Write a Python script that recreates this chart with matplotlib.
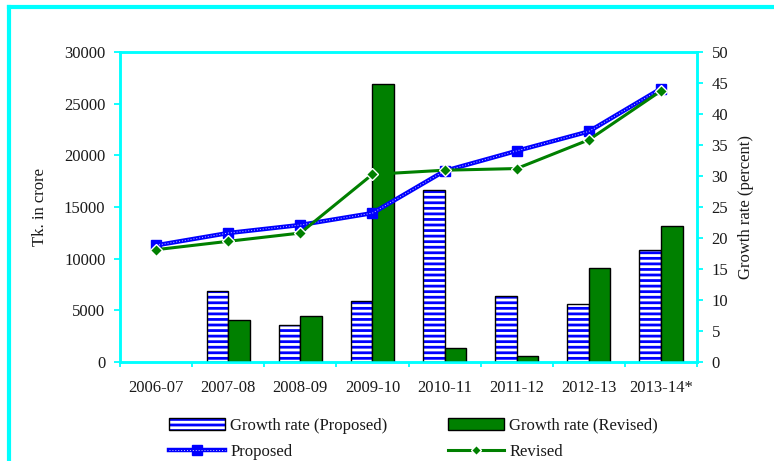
import numpy as np
import matplotlib
matplotlib.use('Agg')
import matplotlib.pyplot as plt
from matplotlib.lines import Line2D
from matplotlib.patches import Patch
from matplotlib.legend_handler import HandlerTuple

# Budget size (Tk. in crore) and growth rates, proposed vs revised
years = ['2006-07', '2007-08', '2008-09', '2009-10', '2010-11', '2011-12', '2012-13', '2013-14*']
proposed = [11290, 12480, 13260, 14410, 18490, 20430, 22310, 26450]
revised = [10870, 11680, 12480, 18160, 18560, 18720, 21500, 26230]
growth_proposed = [np.nan, 11.5, 5.9, 9.8, 27.7, 10.6, 9.3, 18.0]
growth_revised = [np.nan, 6.8, 7.5, 44.8, 2.3, 0.9, 15.1, 21.9]

CYAN = '#00FFFF'
BLUE = '#0000FF'
GREEN = '#008000'
TXT = '#1a1a1a'

plt.rcParams['font.family'] = ['Liberation Serif', 'DejaVu Serif']
plt.rcParams['font.size'] = 12
plt.rcParams['text.color'] = TXT
plt.rcParams['hatch.linewidth'] = 2.0

fig = plt.figure(figsize=(7.74, 4.61), dpi=100)
ax = fig.add_axes([120 / 774, 1 - 362 / 461, 577 / 774, 310 / 461])
ax2 = ax.twinx()

x = np.arange(len(years))
w = 0.3

# growth-rate bars on the right-hand (percent) axis
ax2.bar(x - w / 2, growth_proposed, w, facecolor='white', edgecolor=BLUE,
        hatch='---', linewidth=0, zorder=2)
ax2.bar(x - w / 2, growth_proposed, w, fill=False, edgecolor='black',
        linewidth=1.0, zorder=3)
ax2.bar(x + w / 2, growth_revised, w, facecolor=GREEN, edgecolor='black',
        linewidth=1.0, zorder=3)
ax2.set_ylim(0, 50)
ax2.set_yticks(np.arange(0, 51, 5))

# budget lines on the left-hand axis, kept above the bars
ax.set_zorder(ax2.get_zorder() + 1)
ax.patch.set_visible(False)
ax.plot(x, proposed, color=BLUE, lw=3.2, marker='s', ms=6.5, mfc=BLUE,
        mec=BLUE, zorder=4)
ax.plot(x, proposed, color='white', lw=0.7, ls=(0, (1, 2)), alpha=0.8, zorder=5)
ax.plot(x, revised, color=GREEN, lw=2.2, marker='D', ms=6.5, mfc=GREEN,
        mec='white', mew=1.0, zorder=6)
ax.set_ylim(0, 30000)
ax.set_yticks(np.arange(0, 30001, 5000))
ax.set_xlim(-0.5, len(years) - 0.5)

# category ticks sit on the boundaries, labels in the middle
ax.set_xticks(np.arange(-0.5, len(years), 1.0))
ax.set_xticklabels([])
ax.set_xticks(x, minor=True)
ax.set_xticklabels(years, minor=True)
ax.tick_params(axis='x', which='major', direction='out', length=3.5,
               width=1.3, color=CYAN)
ax.tick_params(axis='x', which='minor', length=0, pad=13, labelcolor=TXT)
ax.tick_params(axis='y', direction='out', length=4.5, width=1.3, color=CYAN,
               pad=6, labelcolor=TXT)
ax2.tick_params(axis='y', direction='out', length=4.5, width=1.3, color=CYAN,
                pad=6, labelcolor=TXT)

for a in (ax, ax2):
    for s in a.spines.values():
        s.set_color(CYAN)
        s.set_linewidth(1.8)

fig.text(40 / 774, 1 - 207 / 461, 'Tk. in crore', rotation=90,
         ha='center', va='center')
fig.text(746 / 774, 1 - 207 / 461, 'Growth rate (percent)', rotation=90,
         ha='center', va='center')

# legend
h_gp = (Patch(facecolor='white', edgecolor=BLUE, hatch='---', linewidth=0),
        Patch(fill=False, edgecolor='black', linewidth=1.0))
h_gr = Patch(facecolor=GREEN, edgecolor='black', linewidth=1.0)
h_p = (Line2D([], [], color=BLUE, lw=3.2, marker='s', ms=6.5, mfc=BLUE, mec=BLUE),
       Line2D([], [], color='white', lw=0.7, ls=(0, (1, 2)), alpha=0.8))
h_r = Line2D([], [], color=GREEN, lw=2.2, marker='D', ms=5.5, mfc=GREEN, mec='white')
fig.legend([h_gp, h_p, h_gr, h_r],
           ['Growth rate (Proposed)', 'Proposed', 'Growth rate (Revised)', 'Revised'],
           handler_map={tuple: HandlerTuple(ndivide=1, pad=0)},
           ncol=2, frameon=False, loc='upper left',
           bbox_to_anchor=(162 / 774, 1 - 411 / 461),
           handlelength=3.4, handletextpad=0.3, columnspacing=3.6,
           labelspacing=0.6, borderaxespad=0)

# outer cyan frame (left and top edges)
fig.add_artist(Line2D([9 / 774, 9 / 774], [0, 1 - 7 / 461], color=CYAN,
                      lw=3.0, transform=fig.transFigure))
fig.add_artist(Line2D([9 / 774, 1], [1 - 7 / 461, 1 - 7 / 461], color=CYAN,
                      lw=3.0, transform=fig.transFigure))

fig.savefig('out.png', dpi=100)
